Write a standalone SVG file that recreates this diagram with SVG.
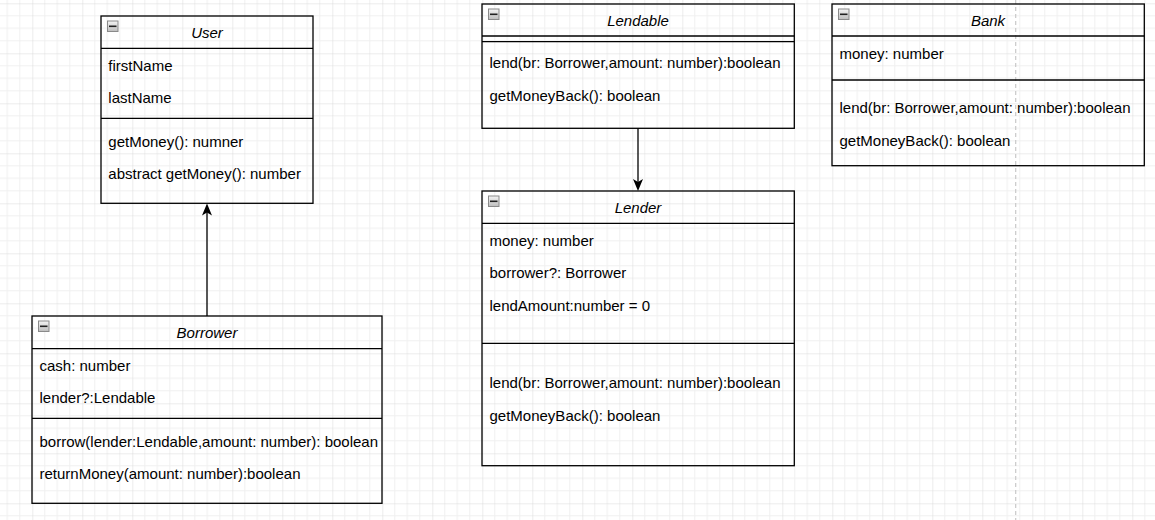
<svg xmlns="http://www.w3.org/2000/svg" width="1155" height="520" viewBox="0 0 1155 520">
<style>
.box{fill:none;stroke:#000;stroke-width:1.3}
.sep{stroke:#000;stroke-width:1.3}
.t{font-family:"Liberation Sans",Arial,sans-serif;font-size:15px;fill:#000}
.h{font-family:"Liberation Sans",Arial,sans-serif;font-size:15px;font-style:italic;fill:#000;text-anchor:middle}
.ico{fill:url(#icoG);stroke:#8a8a8a;stroke-width:1}
.icm{stroke:#222;stroke-width:1.6}
.conn{stroke:#000;stroke-width:1.3;fill:none}
</style>
<defs>
<linearGradient id="icoG" x1="0" y1="0" x2="0" y2="1">
<stop offset="0" stop-color="#f4f4f4"/>
<stop offset="1" stop-color="#bdbdbd"/>
</linearGradient>
<pattern id="grid" patternUnits="userSpaceOnUse" x="32.3" y="3.3" width="50" height="50">
<rect width="50" height="50" fill="#fff"/>
<g stroke="#f0f0f0" stroke-width="1">
<line x1="12.5" y1="0" x2="12.5" y2="50"/>
<line x1="25" y1="0" x2="25" y2="50"/>
<line x1="37.5" y1="0" x2="37.5" y2="50"/>
<line x1="0" y1="12.5" x2="50" y2="12.5"/>
<line x1="0" y1="25" x2="50" y2="25"/>
<line x1="0" y1="37.5" x2="50" y2="37.5"/>
</g>
<g stroke="#dadada" stroke-width="1">
<line x1="0" y1="0" x2="0" y2="50"/>
<line x1="0" y1="0" x2="50" y2="0"/>
</g>
</pattern>
<marker id="arr" markerUnits="userSpaceOnUse" viewBox="0 0 12 10" refX="9" refY="5" markerWidth="12" markerHeight="10" orient="auto">
<path d="M0,0 L12,5 L0,10 L3,5 Z" fill="#000"/>
</marker>
</defs>
<rect x="0" y="0" width="1155" height="520" fill="url(#grid)"/>
<line x1="1015.7" y1="0" x2="1015.7" y2="520" stroke="#c8c8c8" stroke-width="1.2" stroke-dasharray="4,3"/>

<g id="connectors">
<line class="conn" x1="207" y1="316" x2="207" y2="206.5" marker-end="url(#arr)"/>
<line class="conn" x1="638" y1="128.3" x2="638" y2="188" marker-end="url(#arr)"/>
</g>

<g id="User">
<rect class="box" x="101" y="16" width="212" height="187.3"/>
<line class="sep" x1="101" y1="48.3" x2="313" y2="48.3"/>
<line class="sep" x1="101" y1="118.3" x2="313" y2="118.3"/>
<rect class="ico" x="107.5" y="21" width="10.5" height="10.5"/>
<line class="icm" x1="109" y1="26.3" x2="116.5" y2="26.3"/>
<text class="h" x="207" y="38">User</text>
<text class="t" x="108.3" y="71.3">firstName</text>
<text class="t" x="108.3" y="103.3">lastName</text>
<text class="t" x="108.3" y="146.7">getMoney(): numner</text>
<text class="t" x="108.3" y="178.7">abstract getMoney(): number</text>
</g>

<g id="Borrower">
<rect class="box" x="32" y="316" width="350" height="187.3"/>
<line class="sep" x1="32" y1="348.7" x2="382" y2="348.7"/>
<line class="sep" x1="32" y1="418.3" x2="382" y2="418.3"/>
<rect class="ico" x="38.5" y="321" width="10.5" height="10.5"/>
<line class="icm" x1="40" y1="326.3" x2="47.5" y2="326.3"/>
<text class="h" x="207" y="338">Borrower</text>
<text class="t" x="39.5" y="371.3">cash: number</text>
<text class="t" x="39.5" y="403.3">lender?:Lendable</text>
<text class="t" x="39.5" y="446.5">borrow(lender:Lendable,amount: number): boolean</text>
<text class="t" x="39.5" y="478.5">returnMoney(amount: number):boolean</text>
</g>

<g id="Lendable">
<rect class="box" x="482" y="4" width="312.3" height="124.3"/>
<line class="sep" x1="482" y1="36" x2="794.3" y2="36"/>
<line class="sep" x1="482" y1="41.7" x2="794.3" y2="41.7"/>
<rect class="ico" x="488.5" y="9" width="10.5" height="10.5"/>
<line class="icm" x1="490" y1="14.3" x2="497.5" y2="14.3"/>
<text class="h" x="638" y="26">Lendable</text>
<text class="t" x="489.5" y="68.3">lend(br: Borrower,amount: number):boolean</text>
<text class="t" x="489.5" y="100.8">getMoneyBack(): boolean</text>
</g>

<g id="Lender">
<rect class="box" x="482" y="191" width="312.3" height="274.7"/>
<line class="sep" x1="482" y1="223.3" x2="794.3" y2="223.3"/>
<line class="sep" x1="482" y1="343.3" x2="794.3" y2="343.3"/>
<rect class="ico" x="488.5" y="196" width="10.5" height="10.5"/>
<line class="icm" x1="490" y1="201.3" x2="497.5" y2="201.3"/>
<text class="h" x="638" y="213">Lender</text>
<text class="t" x="489.5" y="246.3">money: number</text>
<text class="t" x="489.5" y="278.3">borrower?: Borrower</text>
<text class="t" x="489.5" y="310.8">lendAmount:number = 0</text>
<text class="t" x="489.5" y="388">lend(br: Borrower,amount: number):boolean</text>
<text class="t" x="489.5" y="420.5">getMoneyBack(): boolean</text>
</g>

<g id="Bank">
<rect class="box" x="832" y="4" width="312.3" height="161.7"/>
<line class="sep" x1="832" y1="36" x2="1144.3" y2="36"/>
<line class="sep" x1="832" y1="80" x2="1144.3" y2="80"/>
<rect class="ico" x="838.5" y="9" width="10.5" height="10.5"/>
<line class="icm" x1="840" y1="14.3" x2="847.5" y2="14.3"/>
<text class="h" x="988" y="26">Bank</text>
<text class="t" x="839.5" y="58.5">money: number</text>
<text class="t" x="839.5" y="113.3">lend(br: Borrower,amount: number):boolean</text>
<text class="t" x="839.5" y="146">getMoneyBack(): boolean</text>
</g>
</svg>
